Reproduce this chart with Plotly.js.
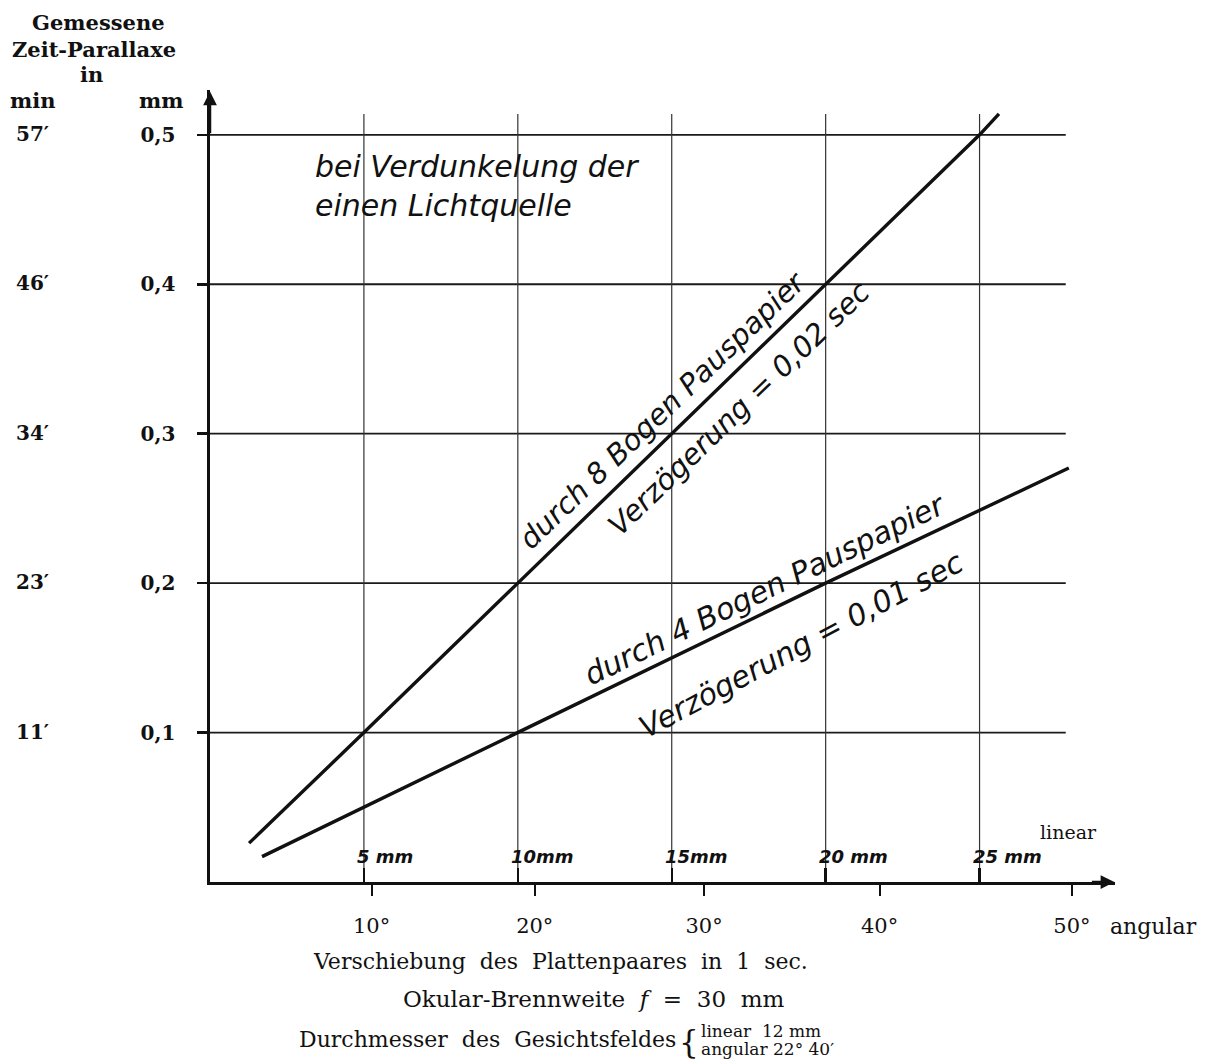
<!DOCTYPE html>
<html><head><meta charset="utf-8">
<script src="https://cdn.plot.ly/plotly-3.0.1.min.js"></script>
<style>html,body{margin:0;padding:0;background:#fff}</style>
</head><body><div id="chart" style="width:1205px;height:1061px"></div>
<script>
// ---- data (x in mm of linear displacement, y in mm parallax) ----
const line8X = [1.27, 5, 10, 15, 20, 25, 25.63];
const line8Y = [0.026, 0.1, 0.2, 0.3, 0.4, 0.5, 0.514];
const line4X = [1.69, 10, 20, 27.9];
const line4Y = [0.017, 0.1, 0.2, 0.277];
const yTickVals = [0.1, 0.2, 0.3, 0.4, 0.5];
const yTickText = ['0,1', '0,2', '0,3', '0,4', '0,5'];
const minuteText = ['11′', '23′', '34′', '46′', '57′'];
const mmGridVals = [5, 10, 15, 20, 25];
const mmLabels = ['5 mm', '10mm', '15mm', '20 mm', '25 mm'];
const angularTickPos = [5.25, 10.55, 16.05, 21.75, 28.0];
const angularLabels = ['10°', '20°', '30°', '40°', '50°'];
const gridXEnd = 27.8;
const gridYEnd = 0.514;

const SERIF = 'DejaVu Serif, serif';
const HAND = 'DejaVu Sans, sans-serif';
const black = '#111';
const SP = ' \u00a0';   // widened word gap of the old print

const traces = [
  {x: line8X, y: line8Y, mode: 'lines', line: {color: black, width: 3.4}, hoverinfo: 'skip', showlegend: false},
  {x: line4X, y: line4Y, mode: 'lines', line: {color: black, width: 3.4}, hoverinfo: 'skip', showlegend: false}
];

const shapes = [];
yTickVals.forEach(v => shapes.push({type: 'line', xref: 'x', yref: 'y', x0: 0, x1: gridXEnd, y0: v, y1: v,
  line: {color: '#1a1a1a', width: 1.8}, layer: 'below'}));
mmGridVals.forEach(v => shapes.push({type: 'line', xref: 'x', yref: 'y', x0: v, x1: v, y0: 0, y1: gridYEnd,
  line: {color: '#333', width: 1.2}, layer: 'below'}));

const ann = [];
function txt(o) {
  ann.push(Object.assign({showarrow: false, xanchor: 'center', yanchor: 'middle',
    font: {family: SERIF, size: 18, color: black}}, o));
}
const px = v => (v - 210) / 905;   // paper x from layout pixel
const py = v => (882 - v) / 792;   // paper y from layout pixel
const headFont = {family: SERIF, size: 21, color: black};

// header on the left
txt({text: '<b>Gemessene</b>', xref: 'paper', yref: 'paper', x: px(98), y: py(22), font: headFont});
txt({text: '<b>Zeit-Parallaxe</b>', xref: 'paper', yref: 'paper', x: px(94), y: py(50), font: headFont});
txt({text: '<b>in</b>', xref: 'paper', yref: 'paper', x: px(92), y: py(74), font: headFont});
txt({text: '<b>min</b>', xref: 'paper', yref: 'paper', x: px(32), y: py(101), font: headFont});
txt({text: '<b>mm</b>', xref: 'paper', yref: 'paper', x: px(161), y: py(101), font: headFont});
// minutes column
yTickVals.forEach((v, i) => txt({text: '<b>' + minuteText[i] + '</b>', xref: 'paper', yref: 'y',
  x: px(32), y: v, yshift: 1, font: {family: SERIF, size: 20, color: black}}));
// mm labels above x axis
mmGridVals.forEach((v, i) => ann.push({text: mmLabels[i], xref: 'x', yref: 'y', x: v - 0.28, y: 0.017,
  xanchor: 'left', yanchor: 'middle', showarrow: false,
  font: {family: HAND, size: 18, style: 'italic', weight: 'bold', color: black}}));
txt({text: 'linear', xref: 'x', yref: 'y', x: 27.9, y: 0.0335, font: {family: SERIF, size: 19, color: black}});
txt({text: 'angular', xref: 'paper', yref: 'paper', x: px(1108), y: py(926), xanchor: 'left', font: {family: SERIF, size: 22, color: black}});
// bottom captions
txt({text: ['Verschiebung', 'des', 'Plattenpaares', 'in', '1', 'sec.'].join(SP), xref: 'paper', yref: 'paper',
  x: px(560), y: py(961), font: {family: SERIF, size: 22, color: black}});
txt({text: ['Okular-Brennweite', '<i>f</i>', '=', '30', 'mm'].join(SP), xref: 'paper', yref: 'paper',
  x: px(593), y: py(999), font: {family: SERIF, size: 23, color: black}});
txt({text: ['Durchmesser', 'des', 'Gesichtsfeldes'].join(SP), xref: 'paper', yref: 'paper',
  x: px(678), y: py(1039), xanchor: 'right', font: {family: SERIF, size: 22, color: black}});
txt({text: '{', xref: 'paper', yref: 'paper', x: px(689), y: py(1042), font: {family: SERIF, size: 31, color: black}});
txt({text: 'linear\u00a0\u00a012 mm', xref: 'paper', yref: 'paper', x: px(699), y: py(1031),
  xanchor: 'left', font: {family: SERIF, size: 17, color: black}});
txt({text: 'angular 22° 40′', xref: 'paper', yref: 'paper', x: px(699), y: py(1049),
  xanchor: 'left', font: {family: SERIF, size: 17, color: black}});

// handwritten labels inside the chart
const handFont = {family: HAND, size: 30, style: 'italic', color: black};
ann.push({text: 'bei Verdunkelung der<br>einen Lichtquelle', xref: 'x', yref: 'y', x: 3.35, y: 0.466,
  xanchor: 'left', yanchor: 'middle', align: 'left', showarrow: false, font: handFont});
ann.push({text: 'durch 8 Bogen Pauspapier', xref: 'x', yref: 'y', x: 14.7, y: 0.316, textangle: -44, showarrow: false, font: {family: HAND, size: 29, style: 'italic', color: black}});
ann.push({text: 'Verzögerung = 0,02 sec', xref: 'x', yref: 'y', x: 17.2, y: 0.317, textangle: -44, showarrow: false, font: {family: HAND, size: 29, style: 'italic', color: black}});
ann.push({text: 'durch 4 Bogen Pauspapier', xref: 'x', yref: 'y', x: 18.0, y: 0.196, textangle: -26, showarrow: false, font: handFont});
ann.push({text: 'Verzögerung = 0,01 sec', xref: 'x', yref: 'y', x: 19.2, y: 0.159, textangle: -28, showarrow: false, font: handFont});

// axis arrowheads
ann.push({text: '', xref: 'x', yref: 'y', axref: 'x', ayref: 'y', x: 29.38, y: 0, ax: 28.6, ay: 0,
  showarrow: true, arrowhead: 2, arrowsize: 1.1, arrowwidth: 2.5, arrowcolor: black, standoff: 0});
ann.push({text: '', xref: 'x', yref: 'y', axref: 'x', ayref: 'y', x: 0, y: 0.529, ax: 0, ay: 0.5,
  showarrow: true, arrowhead: 2, arrowsize: 1.1, arrowwidth: 2.5, arrowcolor: black, standoff: 0});

const layout = {
  width: 1205, height: 1061, autosize: false,
  margin: {l: 210, r: 90, t: 90, b: 179, pad: 0},
  paper_bgcolor: '#fff', plot_bgcolor: '#fff',
  showlegend: false,
  xaxis: {range: [0, 29.4], showgrid: false, zeroline: false, showline: true, linecolor: black, linewidth: 2.6,
    tickmode: 'array', tickvals: angularTickPos, ticktext: angularLabels,
    ticks: 'outside', ticklen: 11, tickwidth: 2, tickcolor: black, ticklabelstandoff: 12,
    tickfont: {family: SERIF, size: 21, color: black},
    minor: {tickmode: 'array', tickvals: mmGridVals, ticks: 'inside', ticklen: 14, tickwidth: 2.4, tickcolor: black, showgrid: false},
    fixedrange: true},
  yaxis: {range: [0, 0.53], showgrid: false, zeroline: false, showline: true, linecolor: black, linewidth: 2.6,
    tickmode: 'array', tickvals: yTickVals, ticktext: yTickText.map(t => '<b>' + t + '</b>'),
    ticks: 'outside', ticklen: 10, tickwidth: 2.5, tickcolor: black, ticklabelstandoff: 18,
    tickfont: {family: SERIF, size: 20, color: black}, fixedrange: true},
  shapes: shapes,
  annotations: ann
};

Plotly.newPlot('chart', traces, layout, {staticPlot: true, displayModeBar: false});
</script></body></html>
